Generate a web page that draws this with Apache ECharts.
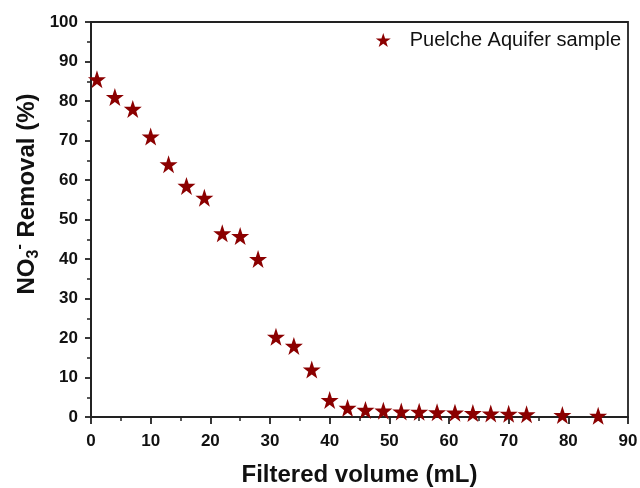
<!DOCTYPE html>
<html><head><meta charset="utf-8">
<script src="https://cdn.jsdelivr.net/npm/echarts@6/dist/echarts.min.js"></script>
<style>html,body{margin:0;padding:0;background:#fff}#c{width:640px;height:488px}</style>
</head><body><div id="c"></div>
<script>
const volume = [1,4,7,10,13,16,19,22,25,28,31,34,37,40,43,46,49,52,55,58,61,64,67,70,73,79,85];
const removal = [85.5,81,78,71,64,58.5,55.5,46.5,45.8,40,20.3,18,12,4.3,2.3,1.8,1.6,1.4,1.3,1.2,1.1,1.0,0.9,0.8,0.7,0.5,0.3];
const seriesName = 'Puelche Aquifer sample';
const xTitle = 'Filtered volume (mL)';
const star = 'path://M50,0 L61.8,35.1 L98.1,35.1 L68.8,56.8 L79.4,91 L50,70 L20.6,91 L31.2,56.8 L1.9,35.1 L38.2,35.1 Z';
const FONT = '"Liberation Sans", Arial, sans-serif';
const INK = '#111';
const chart = echarts.init(document.getElementById('c'));
const tickStyle = {color:'#222',width:1.8};
chart.setOption({
  animation:false,
  backgroundColor:'#fff',
  grid:{left:91,right:12,top:22,bottom:71,show:true,borderColor:'#222',borderWidth:1.8,backgroundColor:'transparent',
    containLabel:false,outerBoundsMode:'none'},
  legend:{right:14,top:25,itemWidth:15,itemHeight:15,itemGap:10,
    data:[{name:seriesName,icon:star}],
    textStyle:{fontFamily:FONT,fontSize:20,color:INK,padding:[0,0,0,14]}},
  graphic:[{type:'text',x:27,y:194,rotation:Math.PI/2,
    style:{text:'{a|NO}{s|3}{p|-}{a| Removal (%)}',align:'center',verticalAlign:'middle',
      font:'bold 24px '+FONT,fill:INK,
      rich:{a:{fontFamily:FONT,fontSize:24,fontWeight:'bold',fill:INK,color:INK},
            s:{fontFamily:FONT,fontSize:16,fontWeight:'bold',fill:INK,color:INK,padding:[14,0,0,0]},
            p:{fontFamily:FONT,fontSize:16,fontWeight:'bold',fill:INK,color:INK,padding:[0,0,14,0]}}}}],
  xAxis:{type:'value',min:0,max:90,interval:10,
    name:xTitle,nameLocation:'middle',nameGap:46,
    nameTextStyle:{fontFamily:FONT,fontSize:24,fontWeight:'bold',color:INK},
    axisLine:{lineStyle:tickStyle},
    axisTick:{inside:false,length:7,lineStyle:tickStyle},
    minorTick:{show:true,splitNumber:2,length:4,lineStyle:{color:'#222',width:1.5}},
    splitLine:{show:false},
    axisLabel:{fontFamily:FONT,fontSize:17,fontWeight:'bold',color:INK,margin:16}},
  yAxis:{type:'value',min:0,max:100,interval:10,
    axisLine:{lineStyle:tickStyle},
    axisTick:{inside:false,length:6,lineStyle:tickStyle},
    minorTick:{show:true,splitNumber:2,length:4,lineStyle:{color:'#222',width:1.5}},
    splitLine:{show:false},
    axisLabel:{fontFamily:FONT,fontSize:17,fontWeight:'bold',color:INK,margin:13}},
  series:[{name:seriesName,type:'scatter',symbol:star,symbolSize:18,
    itemStyle:{color:'#8b0000',opacity:1},
    data:volume.map((v,i)=>[v,removal[i]])}]
});
</script></body></html>
